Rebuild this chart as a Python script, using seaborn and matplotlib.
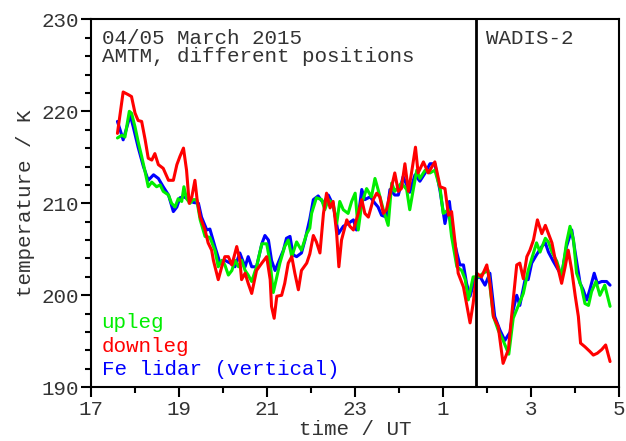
import numpy as np
import pandas as pd
import matplotlib
matplotlib.use("Agg")
import matplotlib.pyplot as plt
import seaborn as sns
from matplotlib.ticker import MultipleLocator, FixedLocator

# ── data (hours since 0 UT of 4 March; values > 24 are 5 March) ─────────────
upleg_t = [17.60, 17.70, 17.77, 17.87, 17.92, 18.00, 18.07, 18.15, 18.23, 18.30,
           18.38, 18.49, 18.57, 18.64, 18.76, 18.83, 18.91, 18.98, 19.06, 19.11,
           19.17, 19.25, 19.32, 19.40, 19.48, 19.59, 19.70, 19.82, 19.89, 19.97,
           20.04, 20.12, 20.20, 20.27, 20.35, 20.42, 20.50, 20.57, 20.65, 20.76,
           20.88, 20.99, 21.07, 21.14, 21.22, 21.29, 21.40, 21.48, 21.56, 21.67,
           21.78, 21.90, 21.97, 22.01, 22.12, 22.24, 22.31, 22.39, 22.50, 22.58,
           22.65, 22.73, 22.84, 22.92, 23.00, 23.07, 23.15, 23.26, 23.37, 23.45,
           23.52, 23.64, 23.75, 23.83, 23.90, 24.05, 24.17, 24.24, 24.32, 24.40,
           24.47, 24.59, 24.70, 24.81, 24.93, 25.00, 25.12, 25.19, 25.31, 25.42,
           25.50, 25.57, 25.68, 25.80, 25.91, 26.02, 26.14, 26.25, 26.36, 26.49,
           26.59, 26.70, 26.82, 26.93, 27.05, 27.12, 27.20, 27.32, 27.39, 27.47,
           27.58, 27.69, 27.80, 27.88, 27.96, 28.03, 28.14, 28.22, 28.30, 28.37,
           28.47, 28.56, 28.67, 28.79]
upleg_T = [217.1, 217.4, 217.2, 220.0, 219.8, 218.3, 216.7, 215.1, 213.4, 211.8,
           212.3, 211.8, 212.0, 211.3, 210.9, 210.0, 209.6, 210.5, 210.2, 211.8,
           210.5, 210.0, 210.4, 210.4, 208.2, 206.4, 206.3, 204.8, 203.1, 203.8,
           203.3, 202.2, 202.7, 203.8, 203.1, 203.8, 202.7, 202.2, 201.5, 203.1,
           205.6, 205.6, 203.5, 200.3, 202.0, 203.5, 205.3, 206.0, 204.2, 205.8,
           204.9, 206.7, 207.3, 208.9, 210.6, 210.4, 209.3, 210.4, 210.0, 207.8,
           210.2, 209.3, 208.9, 210.2, 211.1, 207.1, 210.0, 211.6, 210.7, 212.7,
           211.5, 209.3, 207.6, 212.2, 211.3, 212.2, 211.5, 209.3, 211.5, 213.6,
           212.7, 213.6, 213.3, 213.6, 211.6, 208.9, 209.3, 206.4, 203.1, 202.7,
           201.7, 199.5, 202.0, 202.0, 202.4, 202.7, 197.7, 196.2, 195.1, 193.6,
           197.5, 198.8, 200.2, 202.7, 204.6, 205.7, 204.7, 206.2, 205.8, 204.7,
           203.7, 202.0, 205.7, 207.5, 206.0, 202.4, 200.9, 199.1, 198.9, 200.4,
           201.5, 200.0, 201.1, 198.8]

downleg_t = [17.60, 17.73, 17.85, 17.92, 18.00, 18.07, 18.15, 18.23, 18.30, 18.38,
             18.45, 18.53, 18.64, 18.76, 18.87, 18.95, 19.02, 19.10, 19.17, 19.23,
             19.29, 19.36, 19.41, 19.48, 19.59, 19.66, 19.74, 19.78, 19.89, 19.97,
             20.04, 20.12, 20.20, 20.31, 20.38, 20.42, 20.50, 20.57, 20.65, 20.76,
             20.88, 20.99, 21.07, 21.10, 21.16, 21.22, 21.33, 21.40, 21.48, 21.56,
             21.63, 21.71, 21.78, 21.90, 21.97, 22.05, 22.12, 22.20, 22.28, 22.35,
             22.43, 22.50, 22.58, 22.63, 22.69, 22.81, 22.88, 22.96, 23.07, 23.15,
             23.22, 23.30, 23.41, 23.49, 23.56, 23.64, 23.71, 23.83, 23.90, 23.98,
             24.05, 24.13, 24.21, 24.28, 24.37, 24.43, 24.55, 24.66, 24.81, 24.93,
             25.04, 25.12, 25.19, 25.27, 25.34, 25.46, 25.53, 25.61, 25.68, 25.76,
             25.87, 25.99, 26.06, 26.14, 26.25, 26.36, 26.48, 26.59, 26.67, 26.74,
             26.82, 26.90, 26.97, 27.05, 27.14, 27.24, 27.32, 27.39, 27.47, 27.54,
             27.62, 27.69, 27.77, 27.84, 27.92, 28.00, 28.07, 28.12, 28.22, 28.33,
             28.41, 28.50, 28.60, 28.69, 28.79]
downleg_T = [217.6, 222.1, 221.8, 221.6, 219.8, 219.0, 218.9, 216.9, 214.9, 214.7,
             215.4, 214.2, 213.8, 212.5, 212.5, 214.2, 215.1, 216.0, 213.6, 210.0,
             210.7, 212.5, 210.4, 208.5, 207.1, 205.7, 204.9, 203.8, 201.7, 203.1,
             204.2, 204.2, 203.3, 205.3, 203.8, 201.7, 202.4, 201.3, 200.2, 202.7,
             203.5, 204.2, 201.7, 198.8, 197.5, 199.9, 200.0, 201.3, 203.5, 204.2,
             202.4, 200.6, 202.7, 203.5, 204.5, 206.5, 205.8, 204.6, 208.9, 211.1,
             209.5, 210.2, 206.7, 203.1, 206.0, 208.2, 207.5, 207.1, 208.9, 210.4,
             208.9, 208.5, 210.4, 211.1, 210.7, 208.9, 209.3, 211.8, 213.3, 211.3,
             211.6, 214.3, 211.3, 213.3, 216.1, 213.3, 214.5, 213.3, 214.5, 211.8,
             211.6, 208.7, 209.1, 205.7, 202.4, 200.9, 199.1, 197.0, 199.1, 202.4,
             202.0, 203.3, 201.3, 197.7, 196.6, 192.6, 194.1, 199.5, 203.3, 203.5,
             201.8, 204.2, 204.9, 206.0, 208.2, 206.7, 207.6, 206.7, 205.7, 204.0,
             202.7, 201.3, 203.1, 204.9, 202.7, 199.9, 197.7, 194.8, 194.4, 193.9,
             193.5, 193.7, 194.1, 194.6, 192.8]

lidar_t = [17.60, 17.66, 17.73, 17.81, 17.89, 17.96, 18.07, 18.19, 18.30, 18.42,
           18.53, 18.64, 18.76, 18.87, 18.95, 19.02, 19.10, 19.21, 19.32, 19.44,
           19.51, 19.63, 19.70, 19.82, 19.93, 20.04, 20.16, 20.27, 20.38, 20.50,
           20.57, 20.65, 20.76, 20.88, 20.95, 21.03, 21.10, 21.18, 21.25, 21.37,
           21.44, 21.52, 21.59, 21.67, 21.78, 21.86, 21.97, 22.05, 22.16, 22.28,
           22.39, 22.50, 22.62, 22.73, 22.84, 22.96, 23.03, 23.15, 23.22, 23.34,
           23.45, 23.52, 23.60, 23.71, 23.79, 23.90, 23.98, 24.09, 24.24, 24.36,
           24.47, 24.59, 24.70, 24.81, 24.93, 25.04, 25.14, 25.23, 25.31, 25.38,
           25.46, 25.53, 25.61, 25.72, 25.84, 25.95, 26.06, 26.17, 26.29, 26.40,
           26.52, 26.59, 26.67, 26.74, 26.86, 26.93, 27.01, 27.12, 27.24, 27.32,
           27.39, 27.50, 27.62, 27.69, 27.80, 27.92, 28.00, 28.11, 28.18, 28.26,
           28.33, 28.43, 28.50, 28.60, 28.71, 28.79]
lidar_T = [218.9, 218.0, 216.9, 218.2, 219.6, 218.3, 216.1, 214.0, 212.5, 213.1,
           212.7, 211.8, 210.9, 209.1, 209.6, 210.6, 210.7, 210.5, 210.1, 210.0,
           208.5, 207.1, 207.2, 205.2, 203.5, 203.8, 203.5, 203.1, 204.6, 203.1,
           204.2, 203.1, 203.1, 205.6, 206.5, 206.0, 203.8, 202.7, 203.5, 204.9,
           206.2, 206.4, 204.4, 204.2, 204.6, 206.0, 208.3, 210.4, 210.8, 210.0,
           210.9, 209.8, 206.7, 207.5, 207.8, 208.2, 207.1, 211.5, 210.4, 210.7,
           210.0, 209.6, 208.7, 208.5, 211.5, 210.9, 210.9, 212.9, 211.2, 213.1,
           212.4, 213.3, 214.3, 214.3, 211.3, 207.8, 210.2, 206.4, 204.6, 203.3,
           203.3, 201.3, 199.9, 201.8, 202.0, 201.1, 202.4, 197.7, 196.2, 195.1,
           196.0, 198.4, 200.0, 198.9, 201.7, 201.7, 203.5, 204.4, 205.3, 205.7,
           204.7, 203.7, 202.7, 202.2, 205.3, 207.1, 204.6, 201.3, 200.6, 199.5,
           200.6, 202.4, 201.3, 201.5, 201.5, 201.1]

xticks = [17, 19, 21, 23, 25, 27, 29]
xtick_labels = ["17", "19", "21", "23", "1", "3", "5"]
campaign_start = 25.74

# ── style ────────────────────────────────────────────────────────────────────
sns.set_theme(style="ticks")
plt.rcParams.update({
    "font.family": ["Liberation Mono", "DejaVu Sans Mono"],
    "font.size": 15,
    "axes.labelsize": 15,
    "text.color": "#333333",
    "axes.labelcolor": "#333333",
    "xtick.color": "black", "ytick.color": "black",
    "xtick.labelcolor": "#333333", "ytick.labelcolor": "#333333",
})

df = pd.concat([
    pd.DataFrame({"t": lidar_t, "T": lidar_T, "serie": "Fe lidar (vertical)"}),
    pd.DataFrame({"t": upleg_t, "T": upleg_T, "serie": "upleg"}),
    pd.DataFrame({"t": downleg_t, "T": downleg_T, "serie": "downleg"}),
], ignore_index=True)
cores = {"Fe lidar (vertical)": "#0000ff", "upleg": "#00ee00", "downleg": "#ff0000"}

fig = plt.figure(figsize=(6.26, 4.41), dpi=100)
ax = fig.add_axes([0.1454, 0.1218, 0.8439, 0.8344])

sns.lineplot(data=df, x="t", y="T", hue="serie", palette=cores, sort=False,
             estimator=None, lw=2.2, legend=False, ax=ax)

ax.axvline(campaign_start, color="black", lw=2)

ax.set_xlim(17, 29); ax.set_ylim(190, 230)
ax.xaxis.set_major_locator(FixedLocator(xticks))
ax.set_xticklabels(xtick_labels)
ax.xaxis.set_minor_locator(MultipleLocator(1))
ax.yaxis.set_major_locator(MultipleLocator(10))
ax.yaxis.set_minor_locator(MultipleLocator(2))
ax.tick_params(which="major", direction="out", length=7, width=1.5, labelsize=15, pad=2)
ax.tick_params(which="minor", direction="out", length=4.5, width=1.5)
for s in ax.spines.values():
    s.set_linewidth(1.5); s.set_color("black")

ax.set_xlabel("time / UT", fontsize=15, labelpad=1)
ax.set_ylabel("temperature / K", fontsize=15, labelpad=4)

ax.text(0.02, 0.975, "04/05 March 2015\nAMTM, different positions",
        transform=ax.transAxes, va="top", ha="left", fontsize=15, linespacing=0.95)
ax.text(0.748, 0.975, "WADIS-2", transform=ax.transAxes, va="top", ha="left",
        fontsize=15)
for i, nome in enumerate(["upleg", "downleg", "Fe lidar (vertical)"]):
    ax.text(0.02, 0.175 - i * 0.063, nome, color=cores[nome], transform=ax.transAxes,
            va="center", ha="left", fontsize=15)

fig.savefig("out.png", dpi=100)
